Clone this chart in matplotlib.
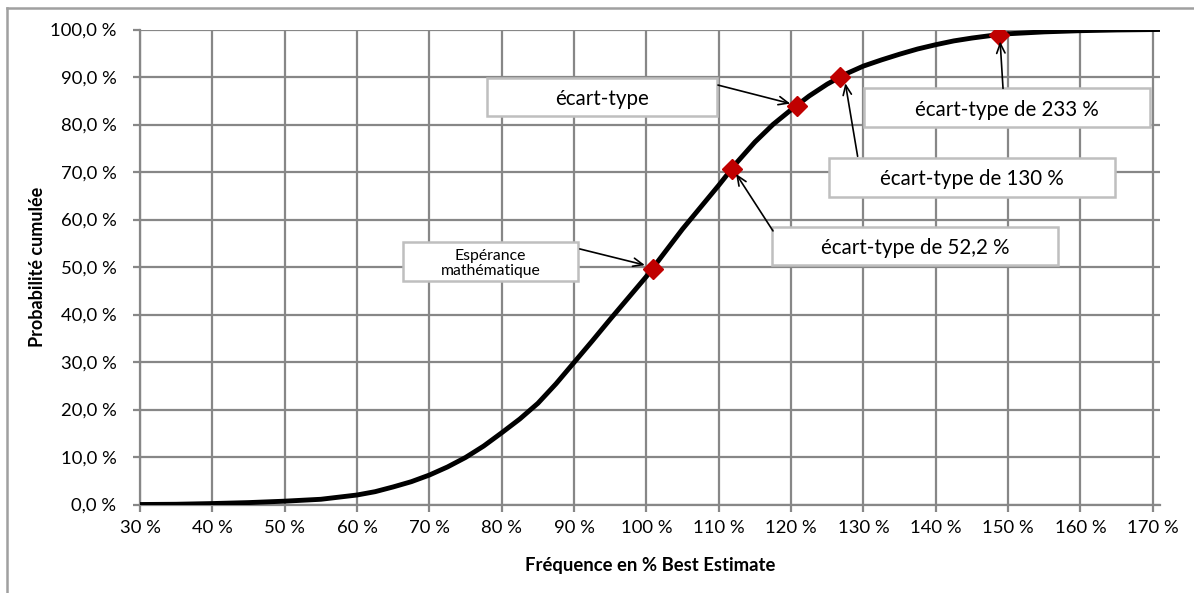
import matplotlib
matplotlib.use("Agg")
import matplotlib.pyplot as plt
from matplotlib.patches import Rectangle
from matplotlib.lines import Line2D

plt.rcParams['font.family'] = ['Lato', 'DejaVu Sans']

# ---- data ----
freq = [30, 35, 40, 45, 50, 55, 60, 62.5, 65, 67.5, 70, 72.5, 75, 77.5, 80, 82.5, 85,
        87.5, 90, 92.5, 95, 97.5, 100, 102.5, 105, 107.5, 110, 112.5, 115, 117.5, 120,
        122.5, 125, 127.5, 130, 132.5, 135, 137.5, 140, 142.5, 145, 147.5, 150, 155,
        160, 165, 171]
cumprob = [0.0, 0.05, 0.2, 0.4, 0.7, 1.1, 2.0, 2.7, 3.7, 4.8, 6.2, 7.9, 9.9, 12.3, 15.1,
           18.0, 21.3, 25.4, 29.9, 34.4, 39.0, 43.5, 48.0, 53.0, 58.0, 62.6, 67.2, 72.0,
           76.3, 80.0, 83.1, 86.0, 88.5, 90.6, 92.3, 93.6, 94.8, 95.9, 96.8, 97.6, 98.2,
           98.7, 99.1, 99.5, 99.75, 99.9, 100.0]

marker_x = [100.9, 111.8, 120.8, 126.7, 148.7]
marker_y = [49.6, 70.6, 83.8, 90.1, 98.8]

labels = ["Espérance\nmathématique", "écart-type de 52,2 %", "écart-type",
          "écart-type de 130 %", "écart-type de 233 %"]

xticks = list(range(30, 171, 10))
xticklabels = [f"{v} %" for v in xticks]
yticks = list(range(0, 101, 10))
yticklabels = [f"{v},0 %" for v in yticks]

# ---- figure ----
W, H = 1194, 593
fig = plt.figure(figsize=(W / 100, H / 100), dpi=100)
ax = fig.add_axes([140 / W, 1 - 504.5 / H, (1160 - 140) / W, (504.5 - 29.5) / H])

grid_c = '#878787'
ax.set_xlim(30, 171)
ax.set_ylim(0, 100)
ax.set_xticks(xticks)
ax.set_xticklabels(xticklabels)
ax.set_yticks(yticks)
ax.set_yticklabels(yticklabels)
ax.grid(True, color=grid_c, linewidth=1.6)
ax.set_axisbelow(True)
for s in ax.spines.values():
    s.set_visible(False)
ax.spines['left'].set_visible(True)
ax.spines['bottom'].set_visible(True)
ax.spines['left'].set_color(grid_c)
ax.spines['bottom'].set_color(grid_c)
ax.spines['left'].set_linewidth(1.6)
ax.spines['bottom'].set_linewidth(1.6)
ax.tick_params(axis='both', direction='out', length=5, width=1.6, color=grid_c,
               labelsize=13.3, labelcolor='black')
ax.tick_params(axis='y', pad=12)
ax.tick_params(axis='x', pad=6)

ax.set_xlabel("Fréquence en % Best Estimate", fontsize=13.3, fontweight='bold', labelpad=15)
ax.set_ylabel("Probabilité cumulée", fontsize=13, fontweight='bold', labelpad=2.5)

ax.plot(freq, cumprob, color='black', linewidth=3.5, solid_capstyle='butt', zorder=3)
ax.plot(marker_x, marker_y, linestyle='none', marker='D', markersize=10,
        color='#C00000', markeredgecolor='#C00000', zorder=5)

# annotation boxes: (x0, x1, y0, y1) in data coords, text size
boxes = [
    (66.35, 90.55, 47.0, 55.3, 11.3),
    (117.35, 156.9, 50.4, 58.45, 14.8),
    (78.0, 109.8, 81.7, 89.75, 14.8),
    (125.2, 164.75, 64.8, 73.0, 14.8),
    (130.05, 169.6, 79.4, 87.6, 14.8),
]
arrows = [
    ((90.8, 53.8), (99.8, 50.4)),
    ((117.5, 57.6), (112.4, 69.6)),
    ((109.9, 88.3), (119.9, 84.4)),
    ((129.2, 73.3), (127.5, 88.7)),
    ((149.3, 87.6), (148.9, 97.5)),
]
for (x0, x1, y0, y1, fs), lab, (p0, p1) in zip(boxes, labels, arrows):
    ax.add_patch(Rectangle((x0, y0), x1 - x0, y1 - y0, facecolor='white',
                           edgecolor='#BFBFBF', linewidth=1.8, zorder=6, clip_on=False))
    ax.text((x0 + x1) / 2, (y0 + y1) / 2 - 0.4, lab, ha='center', va='center', fontsize=fs,
            linespacing=1.05, zorder=7)
    ax.annotate("", xy=p1, xytext=p0,
                arrowprops=dict(arrowstyle='->,head_length=0.7,head_width=0.3',
                                color='black', lw=1.2, shrinkA=0, shrinkB=0),
                zorder=8)

# outer frame (cropped on right and bottom)
fc = '#A0A0A0'
fig.add_artist(Line2D([7 / W, 1.0], [1 - 8 / H, 1 - 8 / H], color=fc, linewidth=1.8,
                      transform=fig.transFigure))
fig.add_artist(Line2D([7 / W, 7 / W], [1 - 8 / H, 0.0], color=fc, linewidth=1.8,
                      transform=fig.transFigure))

fig.savefig("out.png", dpi=100, facecolor='white')
